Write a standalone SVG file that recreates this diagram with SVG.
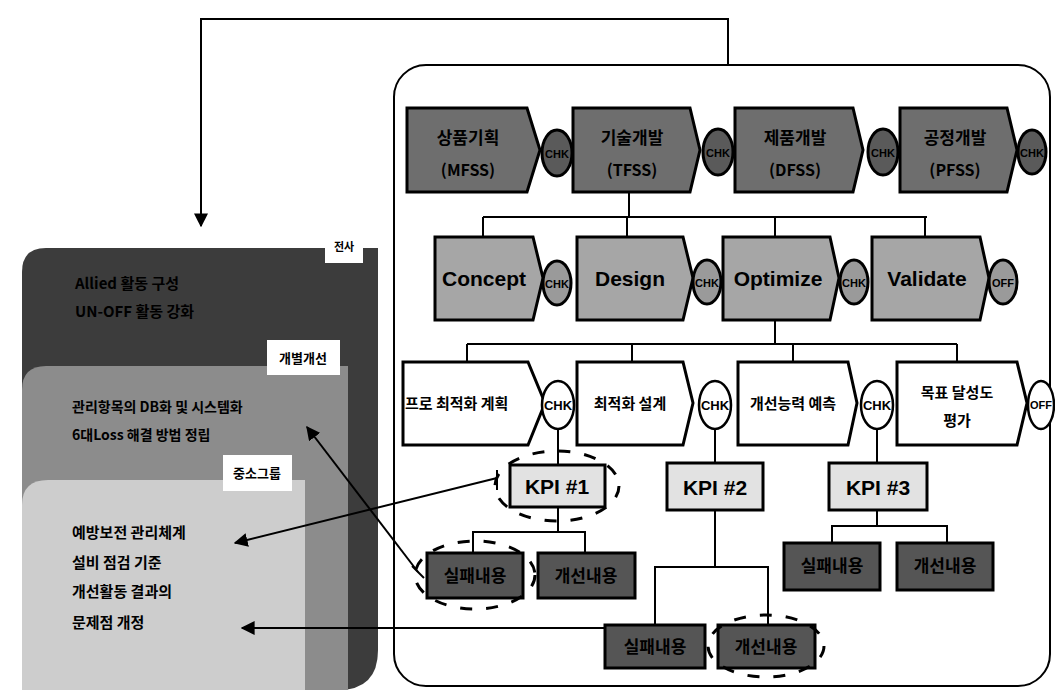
<svg xmlns="http://www.w3.org/2000/svg" width="1055" height="690" viewBox="0 0 1055 690">
<style>
.k{font-family:"Noto Sans CJK KR","Liberation Sans",sans-serif;font-weight:bold;fill:#000}
.e{font-family:"Liberation Sans Narrow","Liberation Sans",sans-serif;font-weight:bold;fill:#000}
.ln{stroke:#000;stroke-width:2;fill:none}
.b1{fill:#6e6e6e;stroke:#000;stroke-width:3}
.b2{fill:#a6a6a6;stroke:#000;stroke-width:3}
.b3{fill:#fff;stroke:#000;stroke-width:3}
.c1{fill:#5a5a5a;stroke:#000;stroke-width:3}
.c2{fill:#9a9a9a;stroke:#000;stroke-width:3}
.c3{fill:#fff;stroke:#000;stroke-width:2.5}
.kpi{fill:#e2e2e2;stroke:#000;stroke-width:3}
.rs{fill:#555;stroke:#000;stroke-width:3}
.dash{fill:none;stroke:#000;stroke-width:3;stroke-dasharray:12 14}
.tag{fill:#fff}
</style>
<defs>
<marker id="ah" viewBox="0 0 10 10" refX="9" refY="5" markerWidth="7" markerHeight="7" orient="auto-start-reverse"><path d="M0,0 L10,5 L0,10 z" fill="#000"/></marker>
</defs>
<rect width="1055" height="690" fill="#fff"/>

<!-- left stacked block -->
<g id="left-block">
<path d="M22,272 Q22,248 46,248 L378,248 L378,650 Q378,690 338,690 L22,690 z" fill="#3c3c3c"/>
<rect class="tag" x="325" y="228" width="38" height="35"/>
<text class="k" x="344" y="251" font-size="11" text-anchor="middle">전사</text>
<text class="k" x="75" y="289" font-size="15">Allied 활동 구성</text>
<text class="k" x="75" y="317" font-size="15">UN-OFF 활동 강화</text>
<path d="M22,390 Q22,366 46,366 L348,366 L348,690 L22,690 z" fill="#8c8c8c"/>
<rect class="tag" x="267" y="340" width="73" height="35"/>
<text class="k" x="303" y="363" font-size="13" text-anchor="middle">개별개선</text>
<text class="k" x="72" y="412" font-size="14">관리항목의 DB화 및 시스템화</text>
<text class="k" x="72" y="440" font-size="14">6대Loss 해결 방법 정립</text>
<path d="M22,505 Q22,480 48,480 L305,480 L305,690 L22,690 z" fill="#cdcdcd"/>
<rect class="tag" x="223" y="455" width="69" height="36"/>
<text class="k" x="257" y="478" font-size="13" text-anchor="middle">중소그룹</text>
<text class="k" x="72" y="538" font-size="15">예방보전 관리체계</text>
<text class="k" x="72" y="568" font-size="15">설비 점검 기준</text>
<text class="k" x="72" y="597" font-size="15">개선활동 결과의</text>
<text class="k" x="72" y="628" font-size="15">문제점 개정</text>
</g>

<!-- right frame -->
<g id="frame">
<rect x="394" y="65" width="656" height="621" rx="32" ry="32" fill="none" stroke="#000" stroke-width="2"/>
</g>

<g id="connectors">
<polyline class="ln" points="728,65 728,19 201,19 201,226" marker-end="url(#ah)"/>
<polyline class="ln" points="629,192 629,217"/>
<polyline class="ln" points="483,217 927,217"/>
<polyline class="ln" points="483,217 483,237"/>
<polyline class="ln" points="627,217 627,237"/>
<polyline class="ln" points="775,217 775,237"/>
<polyline class="ln" points="925,217 925,237"/>
<polyline class="ln" points="775,320 775,344"/>
<polyline class="ln" points="467,344 957,344"/>
<polyline class="ln" points="467,344 467,362"/>
<polyline class="ln" points="632,344 632,362"/>
<polyline class="ln" points="793,344 793,362"/>
<polyline class="ln" points="957,344 957,362"/>
<polyline class="ln" points="558,429 558,465"/>
<polyline class="ln" points="715,429 715,463"/>
<polyline class="ln" points="877,429 877,463"/>
<polyline class="ln" points="558,507 558,532"/>
<polyline class="ln" points="473,553 473,532 585,532 585,553"/>
<polyline class="ln" points="715,510 715,567"/>
<polyline class="ln" points="655,625 655,567 768,567 768,625"/>
<polyline class="ln" points="877,510 877,526"/>
<polyline class="ln" points="832,543 832,526 947,526 947,543"/>
<polyline class="ln" points="497,478 235,543" marker-end="url(#ah)"/>
<polyline class="ln" points="497,470 497,490"/>
<polyline class="ln" points="418,572 307,427" marker-end="url(#ah)"/>
<polyline class="ln" points="412,566 424,578"/>
<polyline class="ln" points="605,628 242,628" marker-end="url(#ah)"/>
</g>

<!-- row 1 -->
<g id="r1n1"><path class="b1" d="M407,108 L527,108 L540,150 L527,192 L407,192 z"/><text class="k" x="468" y="144" font-size="17" text-anchor="middle">상품기획</text><text class="k" x="468" y="176" font-size="16" text-anchor="middle">(MFSS)</text></g>
<g id="r1c1"><ellipse class="c1" cx="557" cy="153" rx="15" ry="23"/><text class="e" x="557" y="158" font-size="11" text-anchor="middle">CHK</text></g>
<g id="r1n2"><path class="b1" d="M573,108 L690,108 L700,150 L690,192 L573,192 z"/><text class="k" x="632" y="144" font-size="17" text-anchor="middle">기술개발</text><text class="k" x="632" y="176" font-size="16" text-anchor="middle">(TFSS)</text></g>
<g id="r1c2"><ellipse class="c1" cx="718" cy="152" rx="15" ry="23"/><text class="e" x="718" y="157" font-size="11" text-anchor="middle">CHK</text></g>
<g id="r1n3"><path class="b1" d="M735,108 L853,108 L863,150 L853,192 L735,192 z"/><text class="k" x="795" y="144" font-size="17" text-anchor="middle">제품개발</text><text class="k" x="795" y="176" font-size="16" text-anchor="middle">(DFSS)</text></g>
<g id="r1c3"><ellipse class="c1" cx="883" cy="152" rx="15" ry="23"/><text class="e" x="883" y="157" font-size="11" text-anchor="middle">CHK</text></g>
<g id="r1n4"><path class="b1" d="M900,108 L1007,108 L1017,150 L1007,192 L900,192 z"/><text class="k" x="955" y="144" font-size="17" text-anchor="middle">공정개발</text><text class="k" x="955" y="176" font-size="16" text-anchor="middle">(PFSS)</text></g>
<g id="r1c4"><ellipse class="c1" cx="1032" cy="152" rx="14" ry="22"/><text class="e" x="1032" y="157" font-size="11" text-anchor="middle">CHK</text></g>

<!-- row 2 -->
<g id="r2n1"><path class="b2" d="M435,237 L533,237 L543,278 L533,320 L435,320 z"/><text class="e" x="484" y="286" font-size="21" text-anchor="middle">Concept</text></g>
<g id="r2c1"><ellipse class="c2" cx="557" cy="283" rx="14" ry="22"/><text class="e" x="557" y="288" font-size="11" text-anchor="middle">CHK</text></g>
<g id="r2n2"><path class="b2" d="M577,237 L683,237 L693,278 L683,320 L577,320 z"/><text class="e" x="630" y="286" font-size="21" text-anchor="middle">Design</text></g>
<g id="r2c2"><ellipse class="c2" cx="707" cy="282" rx="14" ry="22"/><text class="e" x="707" y="287" font-size="11" text-anchor="middle">CHK</text></g>
<g id="r2n3"><path class="b2" d="M723,237 L830,237 L839,278 L830,320 L723,320 z"/><text class="e" x="778" y="286" font-size="21" text-anchor="middle">Optimize</text></g>
<g id="r2c3"><ellipse class="c2" cx="854" cy="282" rx="14" ry="22"/><text class="e" x="854" y="287" font-size="11" text-anchor="middle">CHK</text></g>
<g id="r2n4"><path class="b2" d="M872,237 L980,237 L989,278 L980,320 L872,320 z"/><text class="e" x="927" y="286" font-size="21" text-anchor="middle">Validate</text></g>
<g id="r2c4"><ellipse class="c2" cx="1003" cy="282" rx="14" ry="22"/><text class="e" x="1003" y="287" font-size="11" text-anchor="middle">OFF</text></g>

<!-- row 3 -->
<g id="r3n1"><path class="b3" d="M403,362 L528,362 L545,403 L528,445 L403,445 z"/><text class="k" x="405" y="409" font-size="15">프로 최적화 계획</text></g>
<g id="r3c1"><ellipse class="c3" cx="558" cy="405" rx="16" ry="24"/><text class="e" x="558" y="410" font-size="13" text-anchor="middle">CHK</text></g>
<g id="r3n2"><path class="b3" d="M577,362 L683,362 L693,403 L683,445 L577,445 z"/><text class="k" x="630" y="409" font-size="15" text-anchor="middle">최적화 설계</text></g>
<g id="r3c2"><ellipse class="c3" cx="715" cy="405" rx="16" ry="24"/><text class="e" x="715" y="410" font-size="13" text-anchor="middle">CHK</text></g>
<g id="r3n3"><path class="b3" d="M738,362 L848,362 L857,403 L848,445 L738,445 z"/><text class="k" x="793" y="409" font-size="15" text-anchor="middle">개선능력 예측</text></g>
<g id="r3c3"><ellipse class="c3" cx="877" cy="405" rx="16" ry="24"/><text class="e" x="877" y="410" font-size="13" text-anchor="middle">CHK</text></g>
<g id="r3n4"><path class="b3" d="M897,362 L1017,362 L1027,403 L1017,445 L897,445 z"/><text class="k" x="957" y="398" font-size="15" text-anchor="middle">목표 달성도</text><text class="k" x="957" y="426" font-size="15" text-anchor="middle">평가</text></g>
<g id="r3c4"><ellipse class="c3" cx="1041" cy="405" rx="13" ry="24"/><text class="e" x="1041" y="409" font-size="11" text-anchor="middle">OFF</text></g>

<!-- KPI -->
<g id="kpi1"><rect class="kpi" x="510" y="465" width="95" height="42"/><text class="e" x="557" y="494" font-size="21" text-anchor="middle">KPI #1</text><ellipse class="dash" cx="557" cy="486" rx="62" ry="35"/></g>
<g id="kpi2"><rect class="kpi" x="667" y="463" width="96" height="47"/><text class="e" x="715" y="495" font-size="21" text-anchor="middle">KPI #2</text></g>
<g id="kpi3"><rect class="kpi" x="829" y="463" width="98" height="47"/><text class="e" x="878" y="495" font-size="21" text-anchor="middle">KPI #3</text></g>

<!-- results -->
<g id="k1a"><rect class="rs" x="427" y="553" width="96" height="45"/><text class="k" x="475" y="582" font-size="17" text-anchor="middle">실패내용</text><ellipse class="dash" cx="475" cy="575" rx="60" ry="34"/></g>
<g id="k1b"><rect class="rs" x="538" y="553" width="97" height="45"/><text class="k" x="586" y="582" font-size="17" text-anchor="middle">개선내용</text></g>
<g id="k2a"><rect class="rs" x="605" y="625" width="100" height="43"/><text class="k" x="655" y="653" font-size="17" text-anchor="middle">실패내용</text></g>
<g id="k2b"><rect class="rs" x="718" y="625" width="97" height="43"/><text class="k" x="766" y="653" font-size="17" text-anchor="middle">개선내용</text><ellipse class="dash" cx="766" cy="646" rx="58" ry="31"/></g>
<g id="k3a"><rect class="rs" x="784" y="543" width="96" height="47"/><text class="k" x="832" y="572" font-size="17" text-anchor="middle">실패내용</text></g>
<g id="k3b"><rect class="rs" x="897" y="543" width="96" height="47"/><text class="k" x="945" y="572" font-size="17" text-anchor="middle">개선내용</text></g>
</svg>
